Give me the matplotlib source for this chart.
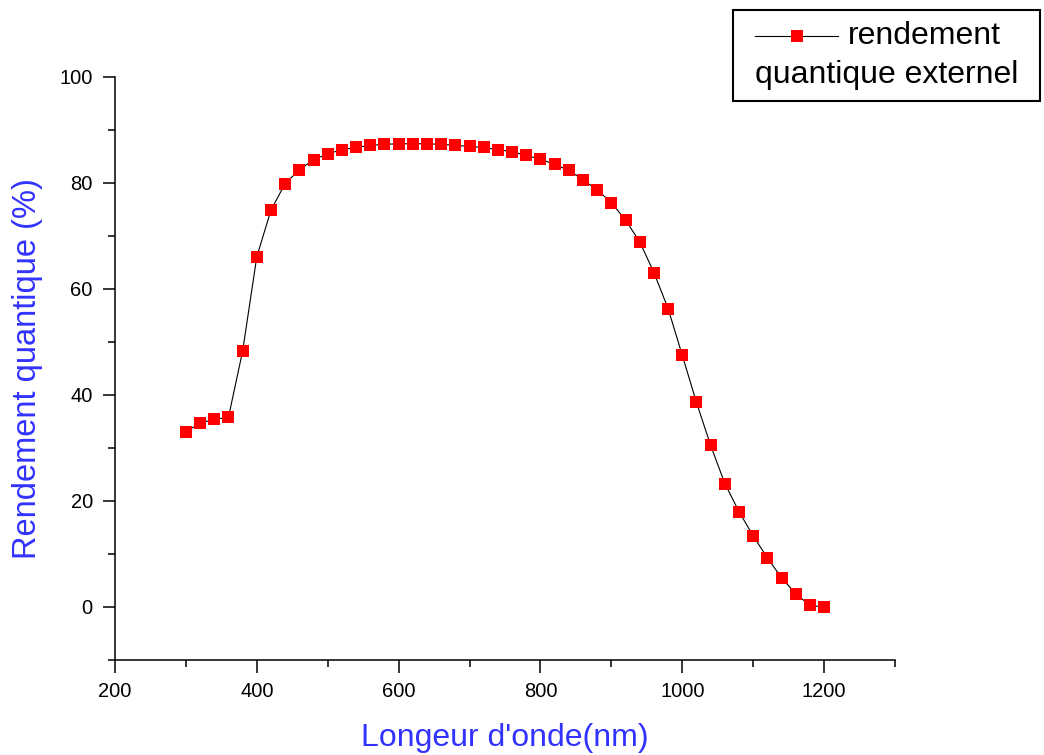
import matplotlib

matplotlib.use("Agg")
from matplotlib import pyplot as plt
from matplotlib.lines import Line2D
from matplotlib.patches import Rectangle
from matplotlib.ticker import MultipleLocator

# wavelength (nm) and external quantum efficiency (%)
wavelength = [300, 320, 340, 360, 380, 400, 420, 440, 460, 480, 500, 520, 540, 560,
              580, 600, 620, 640, 660, 680, 700, 720, 740, 760, 780, 800, 820, 840,
              860, 880, 900, 920, 940, 960, 980, 1000, 1020, 1040, 1060, 1080, 1100,
              1120, 1140, 1160, 1180, 1200]
efficiency = [33.1, 34.7, 35.4, 35.8, 48.3, 66.1, 74.9, 79.9, 82.5, 84.4, 85.5, 86.3,
              86.7, 87.1, 87.3, 87.4, 87.4, 87.4, 87.3, 87.1, 86.9, 86.7, 86.3, 85.9,
              85.2, 84.5, 83.5, 82.4, 80.6, 78.7, 76.3, 73.0, 68.9, 63.1, 56.3, 47.5,
              38.6, 30.5, 23.3, 18.0, 13.4, 9.3, 5.5, 2.5, 0.3, 0.0]
legend_lines = ["rendement", "quantique externel"]

plt.rcParams["font.family"] = ["Liberation Sans", "DejaVu Sans"]
label_blue = "#3232ff"

fig = plt.figure(figsize=(10.44, 7.55), dpi=100)
ax = fig.add_axes([115 / 1044, 1 - 660 / 755, 780 / 1044, 583 / 755])

ax.plot(wavelength, efficiency, color="black", lw=0.8, marker="s", ms=8.3,
        mfc="red", mec="red", mew=0)

ax.set_xlim(200, 1300)
ax.set_ylim(-10, 100)
ax.xaxis.set_major_locator(MultipleLocator(200))
ax.xaxis.set_minor_locator(MultipleLocator(100))
ax.yaxis.set_major_locator(MultipleLocator(20))
ax.yaxis.set_minor_locator(MultipleLocator(10))
ax.set_xticks([200, 400, 600, 800, 1000, 1200])
ax.tick_params(which="major", direction="out", length=9, width=1.1, labelsize=14.5,
               pad=7)
ax.tick_params(which="minor", direction="out", length=5, width=1.1)
for side in ("top", "right"):
    ax.spines[side].set_visible(False)
for side in ("left", "bottom"):
    ax.spines[side].set_linewidth(1.1)

ax.set_xlabel("Longeur d'onde(nm)", fontsize=23, color=label_blue, labelpad=16)
ax.set_ylabel("Rendement quantique (%)", fontsize=23.5, color=label_blue, labelpad=12)

# legend box drawn by hand to keep the two-line label layout
fig.patches.append(Rectangle((733 / 1044, 1 - 101 / 755), 307 / 1044, 91 / 755,
                             transform=fig.transFigure, fc="white", ec="black",
                             lw=1.5))
fig.lines.append(Line2D([755 / 1044, 838 / 1044], [1 - 36 / 755, 1 - 36 / 755],
                        transform=fig.transFigure, color="black", lw=0.8))
fig.lines.append(Line2D([797 / 1044], [1 - 36 / 755], transform=fig.transFigure,
                        marker="s", ms=8.3, mfc="red", mec="red", mew=0))
fig.text(848 / 1044, 1 - 36 / 755, legend_lines[0], fontsize=23, va="center")
fig.text(755 / 1044, 1 - 75 / 755, legend_lines[1], fontsize=23, va="center")

fig.savefig("out.png", dpi=100)
